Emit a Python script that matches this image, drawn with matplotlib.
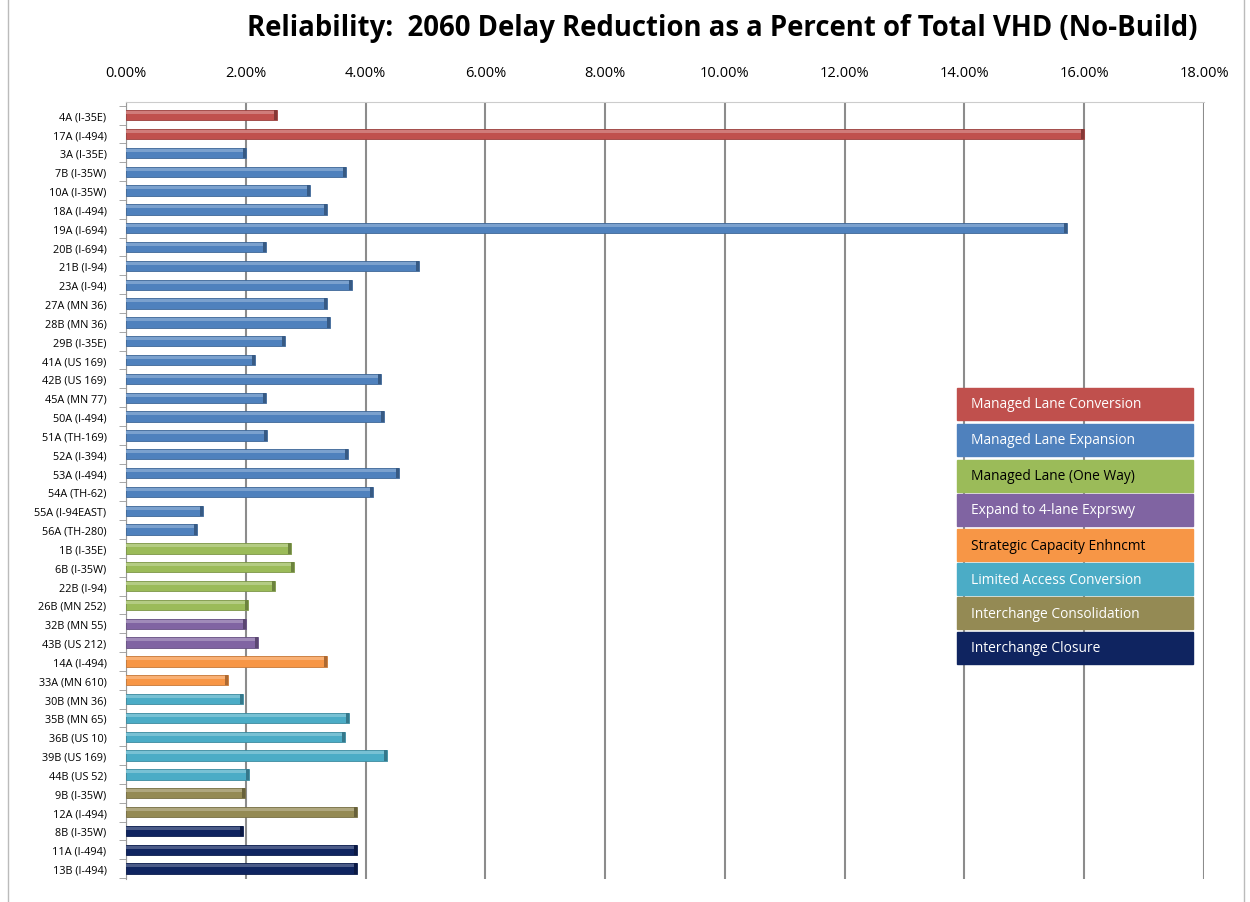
import numpy as np
import matplotlib.pyplot as plt
from matplotlib.patches import Rectangle

# data (percent of total VHD)
projects = [
    "4A (I-35E)", "17A (I-494)",
    "3A (I-35E)", "7B (I-35W)", "10A (I-35W)", "18A (I-494)", "19A (I-694)",
    "20B (I-694)", "21B (I-94)", "23A (I-94)", "27A (MN 36)", "28B (MN 36)",
    "29B (I-35E)", "41A (US 169)", "42B (US 169)", "45A (MN 77)", "50A (I-494)",
    "51A (TH-169)", "52A (I-394)", "53A (I-494)", "54A (TH-62)",
    "55A (I-94EAST)", "56A (TH-280)",
    "1B (I-35E)", "6B (I-35W)", "22B (I-94)", "26B (MN 252)",
    "32B (MN 55)", "43B (US 212)",
    "14A (I-494)", "33A (MN 610)",
    "30B (MN 36)", "35B (MN 65)", "36B (US 10)", "39B (US 169)", "44B (US 52)",
    "9B (I-35W)", "12A (I-494)",
    "8B (I-35W)", "11A (I-494)", "13B (I-494)",
]
reduction = [
    2.52, 16.0,
    2.0, 3.68, 3.08, 3.35, 15.72,
    2.33, 4.9, 3.78, 3.35, 3.4,
    2.65, 2.16, 4.25, 2.33, 4.3,
    2.35, 3.71, 4.56, 4.13,
    1.28, 1.18,
    2.76, 2.8, 2.48, 2.03,
    2.01, 2.2,
    3.36, 1.71,
    1.96, 3.73, 3.65, 4.36, 2.05,
    1.98, 3.85,
    1.95, 3.85, 3.85,
]
group = [0] * 2 + [1] * 21 + [2] * 4 + [3] * 2 + [4] * 2 + [5] * 5 + [6] * 2 + [7] * 3

group_names = [
    "Managed Lane Conversion", "Managed Lane Expansion", "Managed Lane (One Way)",
    "Expand to 4-lane Exprswy", "Strategic Capacity Enhncmt", "Limited Access Conversion",
    "Interchange Consolidation", "Interchange Closure",
]
group_colors = ["#C0504D", "#4F81BD", "#9BBB59", "#8064A2", "#F79646", "#4BACC6", "#948A54", "#0F2460"]
group_text = ["white", "white", "black", "white", "black", "white", "white", "white"]


def shade(c, f):
    rgb = np.array(plt.matplotlib.colors.to_rgb(c))
    if f > 0:
        return tuple(rgb + (1 - rgb) * f)
    return tuple(rgb * (1 + f))


fig = plt.figure(figsize=(12.5, 9.03), dpi=100)
ax = fig.add_axes([0.1008, 0.0255, 0.8624, 0.8604])

y = np.arange(len(projects))
cols = [group_colors[g] for g in group]
ax.barh(y, reduction, height=0.55, color=cols, edgecolor=[shade(c, -0.2) for c in cols],
        linewidth=0.6, zorder=3)
# lighter top face for a bit of the 3d look
ax.barh(y - 0.14, reduction, height=0.16, color=[shade(c, 0.25) for c in cols], linewidth=0, zorder=4)
ax.barh(y, [0.05] * len(y), left=np.array(reduction) - 0.05, height=0.55,
        color=[shade(c, -0.3) for c in cols], linewidth=0, zorder=5)

ax.set_xlim(0, 18)
ax.set_ylim(40.55, -0.7)
ax.xaxis.tick_top()
ax.set_xticks(np.arange(0, 19, 2))
ax.set_xticklabels([f"{v:.2f}%" for v in np.arange(0, 19, 2)], fontsize=10.5, family="Open Sans")
ax.tick_params(axis="x", length=0, pad=16)
ax.set_yticks(y)
ax.set_yticklabels(projects, fontsize=7.8, family="Open Sans")
ax.tick_params(axis="y", length=0, pad=14)
ax.set_yticks(np.arange(-0.5, 41, 1), minor=True)
ax.tick_params(axis="y", which="minor", length=5, color="#999999")
ax.grid(axis="x", color="#8c8c8c", linewidth=1.5, zorder=0)
for s in ["right", "bottom"]:
    ax.spines[s].set_visible(False)
ax.spines["left"].set_color("#999999")
ax.spines["top"].set_color("#cccccc")

# legend as coloured boxes
box_top = [389, 425, 461, 495, 530, 564, 598, 633]
for i, name in enumerate(group_names):
    y0 = 1 - (box_top[i] + 32) / 903
    fig.patches.append(Rectangle((957 / 1250, y0), 236 / 1250, 32 / 903, transform=fig.transFigure,
                                 color=group_colors[i], zorder=10))
    fig.text(971 / 1250, y0 + 16 / 903, name, color=group_text[i], fontsize=9.9, family="Open Sans",
             va="center", ha="left", zorder=11)

fig.text(0.578, 0.968, "Reliability:  2060 Delay Reduction as a Percent of Total VHD (No-Build)",
         ha="center", va="center", fontsize=19.8, fontweight="bold", family="Open Sans")

# chart frame
fig.patches.append(Rectangle((8 / 1250, -0.01), 1236 / 1250, 1.02, transform=fig.transFigure,
                             fill=False, edgecolor="#bbbbbb", linewidth=1))

fig.savefig("out.png", dpi=100)
